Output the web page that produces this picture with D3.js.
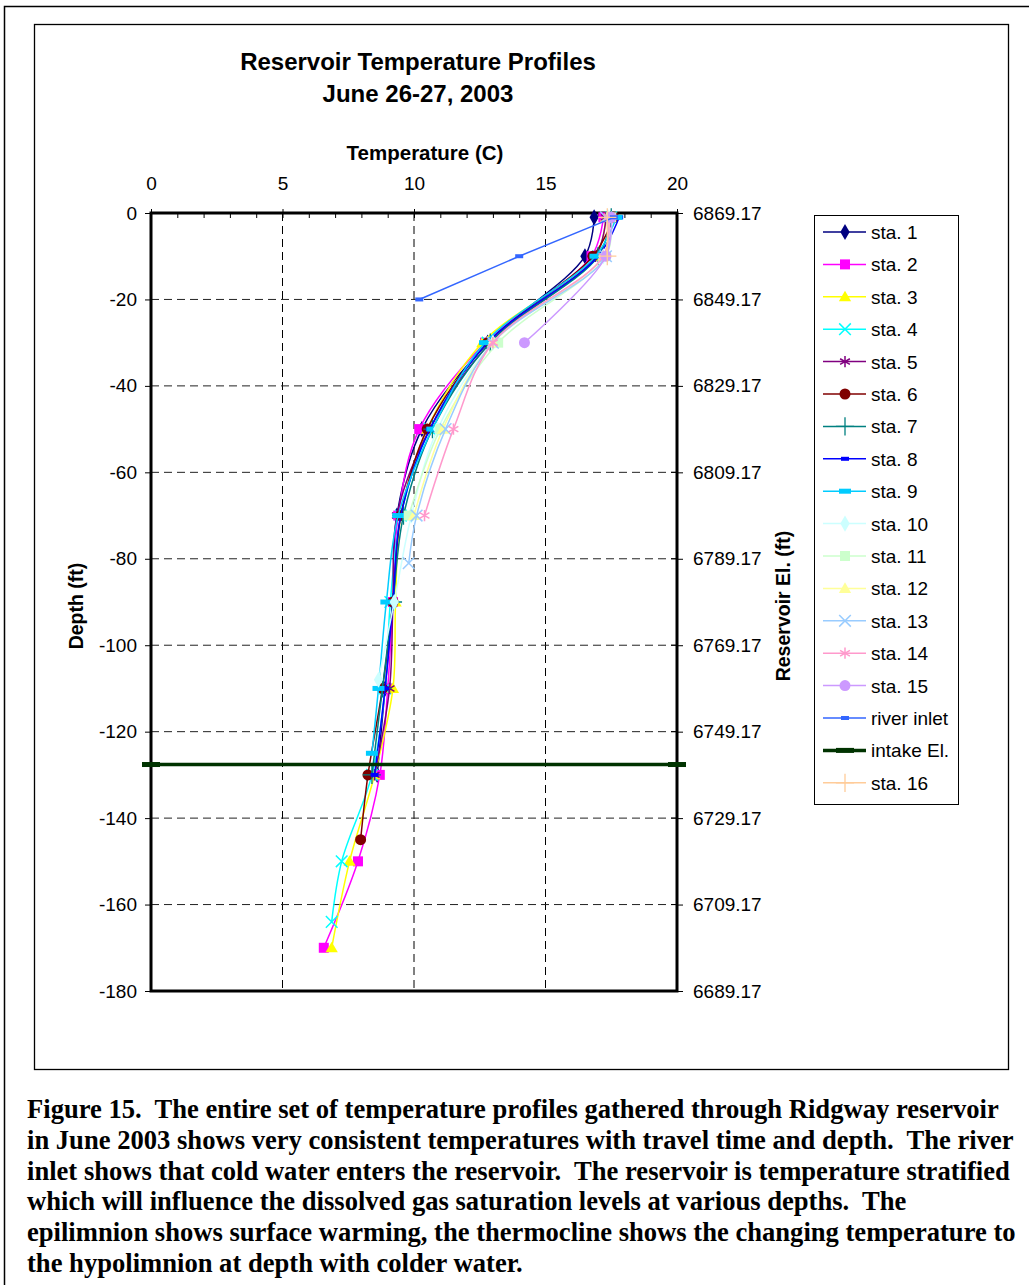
<!DOCTYPE html>
<html>
<head>
<meta charset="utf-8">
<script src="https://cdn.jsdelivr.net/npm/d3@7"></script>
<style>
  body { margin: 0; background: #fff; }
  svg { display: block; }
  text { font-family: "Liberation Sans", Arial, sans-serif; }
  .caption { font-family: "Liberation Serif", "Times New Roman", serif; font-weight: bold; white-space: pre; }
</style>
</head>
<body>
<svg id="chart" width="1029" height="1285"></svg>
<script>
// [temperature C, depth ft] for each station
const sta1 = [[16.85, -1], [16.5, -10], [12.8, -30], [10.3, -50], [9.35, -70], [9.2, -90], [8.9, -110], [8.6, -130]];
const sta2 = [[17.2, -1], [16.75, -10], [12.7, -30], [10.2, -50], [9.4, -70], [9.2, -90], [9.0, -110], [8.7, -130], [7.87, -150], [6.57, -170]];
const sta3 = [[17.3, -1], [16.9, -10], [12.6, -30], [10.5, -50], [9.5, -70], [9.3, -90], [9.2, -110], [8.5, -130], [7.55, -150], [6.87, -170]];
const sta4 = [[17.5, -1], [17.0, -10], [12.8, -30], [10.6, -50], [9.5, -70], [9.1, -90], [8.9, -110], [8.4, -130], [7.25, -150], [6.87, -164]];
const sta5 = [[17.3, -1], [16.9, -10], [12.9, -30], [10.6, -50], [9.35, -70], [9.2, -90], [9.07, -110], [8.5, -130]];
const sta6 = [[17.6, -1], [16.8, -10], [12.8, -30], [10.5, -50], [9.5, -70], [9.2, -90], [8.8, -110], [8.25, -130], [7.97, -145]];
const sta7 = [[17.5, -1], [17.0, -10], [12.9, -30], [10.7, -50], [9.6, -70], [9.2, -90], [8.8, -110], [8.4, -130]];
const sta8 = [[17.8, -1], [17.0, -10], [12.8, -30], [10.6, -50], [9.5, -70], [9.2, -90], [8.9, -110], [8.5, -130]];
const sta9 = [[17.7, -1], [16.9, -10], [12.7, -30], [10.7, -50], [9.4, -70], [8.95, -90], [8.65, -110], [8.4, -125]];
const sta10 = [[17.4, -1], [17.2, -10], [13.0, -30], [10.9, -50], [9.9, -70], [9.25, -90], [8.65, -108]];
const sta11 = [[17.5, -1], [17.3, -10], [13.2, -30], [11.0, -50], [9.8, -70]];
const sta12 = [[17.4, -1], [17.2, -10], [13.0, -30], [11.1, -50], [10.0, -70]];
const sta13 = [[17.3, -1], [17.3, -10], [13.0, -30], [11.2, -50], [10.1, -70], [9.8, -81]];
const sta14 = [[17.4, -1], [17.2, -10], [13.0, -30], [11.5, -50], [10.4, -70]];
const sta15 = [[17.5, -1], [17.3, -10], [14.2, -30]];
const riverInlet = [[17.6, -1], [14.0, -10], [10.2, -20]];
const intakeEl = [[0, -127.6], [20, -127.6]];
const sta16 = [[17.35, -1], [17.35, -10]];

const tempTicks = [0, 5, 10, 15, 20];
const depthTicks = [0, -20, -40, -60, -80, -100, -120, -140, -160, -180];
const surfaceEl = 6869.17;

const titleLines = ['Reservoir Temperature Profiles', 'June 26-27, 2003'];
const captionLines = [
  'Figure 15.  The entire set of temperature profiles gathered through Ridgway reservoir',
  'in June 2003 shows very consistent temperatures with travel time and depth.  The river',
  'inlet shows that cold water enters the reservoir.  The reservoir is temperature stratified',
  'which will influence the dissolved gas saturation levels at various depths.  The',
  'epilimnion shows surface warming, the thermocline shows the changing temperature to',
  'the hypolimnion at depth with colder water.'
];

const series = [
  { name: 'sta. 1', data: sta1, color: '#000080', marker: 'diamond' },
  { name: 'sta. 2', data: sta2, color: '#FF00FF', marker: 'square' },
  { name: 'sta. 3', data: sta3, color: '#FFFF00', marker: 'triangle' },
  { name: 'sta. 4', data: sta4, color: '#00FFFF', marker: 'x' },
  { name: 'sta. 5', data: sta5, color: '#800080', marker: 'star' },
  { name: 'sta. 6', data: sta6, color: '#800000', marker: 'circle' },
  { name: 'sta. 7', data: sta7, color: '#008080', marker: 'plus' },
  { name: 'sta. 8', data: sta8, color: '#0000FF', marker: 'dash' },
  { name: 'sta. 9', data: sta9, color: '#00CCFF', marker: 'bigdash' },
  { name: 'sta. 10', data: sta10, color: '#CCFFFF', marker: 'diamond' },
  { name: 'sta. 11', data: sta11, color: '#CCFFCC', marker: 'square' },
  { name: 'sta. 12', data: sta12, color: '#FFFF99', marker: 'triangle' },
  { name: 'sta. 13', data: sta13, color: '#99CCFF', marker: 'x' },
  { name: 'sta. 14', data: sta14, color: '#FF99CC', marker: 'star' },
  { name: 'sta. 15', data: sta15, color: '#CC99FF', marker: 'circle' },
  { name: 'river inlet', data: riverInlet, color: '#3366FF', marker: 'dash', straight: true },
  { name: 'intake El.', data: intakeEl, color: '#003300', marker: 'wide', straight: true, width: 3.5 },
  { name: 'sta. 16', data: sta16, color: '#FFCC99', marker: 'plus' }
];

const svg = d3.select('#chart');

const plot = { left: 151, right: 677, top: 213, bottom: 991 };

const x = d3.scaleLinear().domain([0, 20]).range([plot.left, plot.right]);
const y = d3.scaleLinear().domain([0, -180]).range([plot.top, plot.bottom]);
const yEl = d3.scaleLinear().domain([surfaceEl, surfaceEl - 180]).range([plot.top, plot.bottom]);

// outer page frame and chart frame
svg.append('path')
   .attr('d', 'M4.5,1285 V6.5 H1029')
   .attr('fill', 'none')
   .attr('stroke', '#000')
   .attr('stroke-width', 1.5);

svg.append('rect')
   .attr('x', 34.5).attr('y', 24.5)
   .attr('width', 974).attr('height', 1045)
   .attr('fill', '#fff')
   .attr('stroke', '#000')
   .attr('stroke-width', 1.3);

// titles
svg.selectAll('.title')
   .data(titleLines)
   .enter()
   .append('text')
   .attr('class', 'title')
   .attr('x', 418)
   .attr('y', (d, i) => 70 + i * 32)
   .attr('text-anchor', 'middle')
   .style('font-size', '24px')
   .style('font-weight', 'bold')
   .text(d => d);

// grid
svg.append('g')
   .selectAll('line')
   .data(tempTicks.slice(1, -1))
   .enter()
   .append('line')
   .attr('x1', d => x(d)).attr('x2', d => x(d))
   .attr('y1', plot.top).attr('y2', plot.bottom)
   .attr('stroke', '#000')
   .attr('stroke-dasharray', '8,5');

svg.append('g')
   .selectAll('line')
   .data(depthTicks.slice(1, -1))
   .enter()
   .append('line')
   .attr('x1', plot.left).attr('x2', plot.right)
   .attr('y1', d => y(d)).attr('y2', d => y(d))
   .attr('stroke', '#222')
   .attr('stroke-dasharray', '8,5');

// axes
const topAxis = d3.axisTop(x).tickValues(tempTicks).tickSize(4).tickPadding(19).tickFormat(d => String(d));
const topMinor = d3.axisTop(x).ticks(20).tickSize(-5).tickFormat('');
const leftAxis = d3.axisLeft(y).tickValues(depthTicks).tickSize(6).tickPadding(8).tickFormat(d => String(d));
const rightAxis = d3.axisRight(yEl).tickValues(depthTicks.map(d => surfaceEl + d)).tickSize(6).tickPadding(10).tickFormat(d3.format('.2f'));

svg.append('g')
   .attr('class', 'axis')
   .attr('transform', `translate(0, ${plot.top})`)
   .call(topMinor);

svg.append('g')
   .attr('class', 'axis')
   .attr('transform', `translate(0, ${plot.top})`)
   .call(topAxis);

svg.append('g')
   .attr('class', 'axis')
   .attr('transform', `translate(${plot.left}, 0)`)
   .call(leftAxis);

svg.append('g')
   .attr('class', 'axis')
   .attr('transform', `translate(${plot.right}, 0)`)
   .call(rightAxis);

// crossing ticks on the right axis
svg.append('g')
   .selectAll('line')
   .data(depthTicks)
   .enter()
   .append('line')
   .attr('x1', plot.right - 6).attr('x2', plot.right)
   .attr('y1', d => y(d)).attr('y2', d => y(d))
   .attr('stroke', '#000');

svg.selectAll('.axis .domain').remove();
svg.selectAll('.axis text')
   .style('font-size', '19px')
   .style('font-family', '"Liberation Sans", Arial, sans-serif')
   .attr('fill', '#000');
svg.selectAll('.axis line').attr('stroke', '#000');

svg.append('rect')
   .attr('x', plot.left).attr('y', plot.top)
   .attr('width', plot.right - plot.left)
   .attr('height', plot.bottom - plot.top)
   .attr('fill', 'none')
   .attr('stroke', '#000')
   .attr('stroke-width', 3);

// axis titles
svg.append('text')
   .attr('x', 425).attr('y', 160)
   .attr('text-anchor', 'middle')
   .style('font-size', '20.5px')
   .style('font-weight', 'bold')
   .text('Temperature (C)');

svg.append('text')
   .attr('transform', 'translate(83, 606) rotate(-90)')
   .attr('text-anchor', 'middle')
   .style('font-size', '19.5px')
   .style('font-weight', 'bold')
   .text('Depth (ft)');

svg.append('text')
   .attr('transform', 'translate(790, 606) rotate(-90)')
   .attr('text-anchor', 'middle')
   .style('font-size', '19.5px')
   .style('font-weight', 'bold')
   .text('Reservoir El. (ft)');

// markers
function drawMarker(g, type, color, cx, cy) {
  if (type === 'diamond') {
    g.append('path').attr('d', d3.symbol(d3.symbolDiamond, 75)())
     .attr('transform', `translate(${cx},${cy})`).attr('fill', color);
  } else if (type === 'square') {
    g.append('rect').attr('x', cx - 5).attr('y', cy - 5).attr('width', 10).attr('height', 10).attr('fill', color);
  } else if (type === 'triangle') {
    g.append('path').attr('d', d3.symbol(d3.symbolTriangle, 65)())
     .attr('transform', `translate(${cx},${cy + 1})`).attr('fill', color);
  } else if (type === 'x') {
    g.append('path').attr('d', d3.symbol(d3.symbolTimes, 90)())
     .attr('transform', `translate(${cx},${cy})`).attr('fill', 'none').attr('stroke', color).attr('stroke-width', 1.5);
  } else if (type === 'star') {
    g.append('path').attr('d', d3.symbol(d3.symbolAsterisk, 90)())
     .attr('transform', `translate(${cx},${cy})`).attr('fill', 'none').attr('stroke', color).attr('stroke-width', 1.5);
  } else if (type === 'circle') {
    g.append('circle').attr('cx', cx).attr('cy', cy).attr('r', 5.5).attr('fill', color);
  } else if (type === 'plus') {
    g.append('path').attr('d', d3.symbol(d3.symbolPlus, 110)())
     .attr('transform', `translate(${cx},${cy})`).attr('fill', 'none').attr('stroke', color).attr('stroke-width', 1.3);
  } else if (type === 'dash') {
    g.append('rect').attr('x', cx - 4).attr('y', cy - 2).attr('width', 8).attr('height', 4).attr('fill', color);
  } else if (type === 'bigdash') {
    g.append('rect').attr('x', cx - 6).attr('y', cy - 2.5).attr('width', 12).attr('height', 5).attr('fill', color);
  } else if (type === 'wide') {
    g.append('rect').attr('x', cx - 9).attr('y', cy - 2.5).attr('width', 18).attr('height', 5).attr('fill', color);
  }
}

const smooth = d3.line()
  .x(d => x(d[0]))
  .y(d => y(d[1]))
  .curve(d3.curveCatmullRom.alpha(0.5));

const straight = d3.line()
  .x(d => x(d[0]))
  .y(d => y(d[1]));

const seriesG = svg.append('g');

series.forEach(s => {
  const g = seriesG.append('g');
  g.append('path')
   .datum(s.data)
   .attr('d', s.straight ? straight : smooth)
   .attr('fill', 'none')
   .attr('stroke', s.color)
   .attr('stroke-width', s.width || 1.5);
  s.data.forEach(d => drawMarker(g, s.marker, s.color, x(d[0]), y(d[1])));
});

// legend
const legend = svg.append('g');
legend.append('rect')
   .attr('x', 814.5).attr('y', 215.5)
   .attr('width', 144).attr('height', 589)
   .attr('fill', '#fff')
   .attr('stroke', '#000')
   .attr('stroke-width', 1);

series.forEach((s, i) => {
  const ly = 232 + i * 32.4;
  legend.append('line')
     .attr('x1', 823).attr('x2', 866)
     .attr('y1', ly).attr('y2', ly)
     .attr('stroke', s.color)
     .attr('stroke-width', s.width || 1.5);
  drawMarker(legend, s.marker, s.color, 845, ly);
  legend.append('text')
     .attr('x', 871).attr('y', ly + 7)
     .style('font-size', '19px')
     .text(s.name);
});

// caption
svg.selectAll('.caption')
   .data(captionLines)
   .enter()
   .append('text')
   .attr('class', 'caption')
   .attr('x', 27)
   .attr('y', (d, i) => 1118 + i * 30.8)
   .style('font-size', '26.6px')
   .text(d => d);
</script>
</body>
</html>
